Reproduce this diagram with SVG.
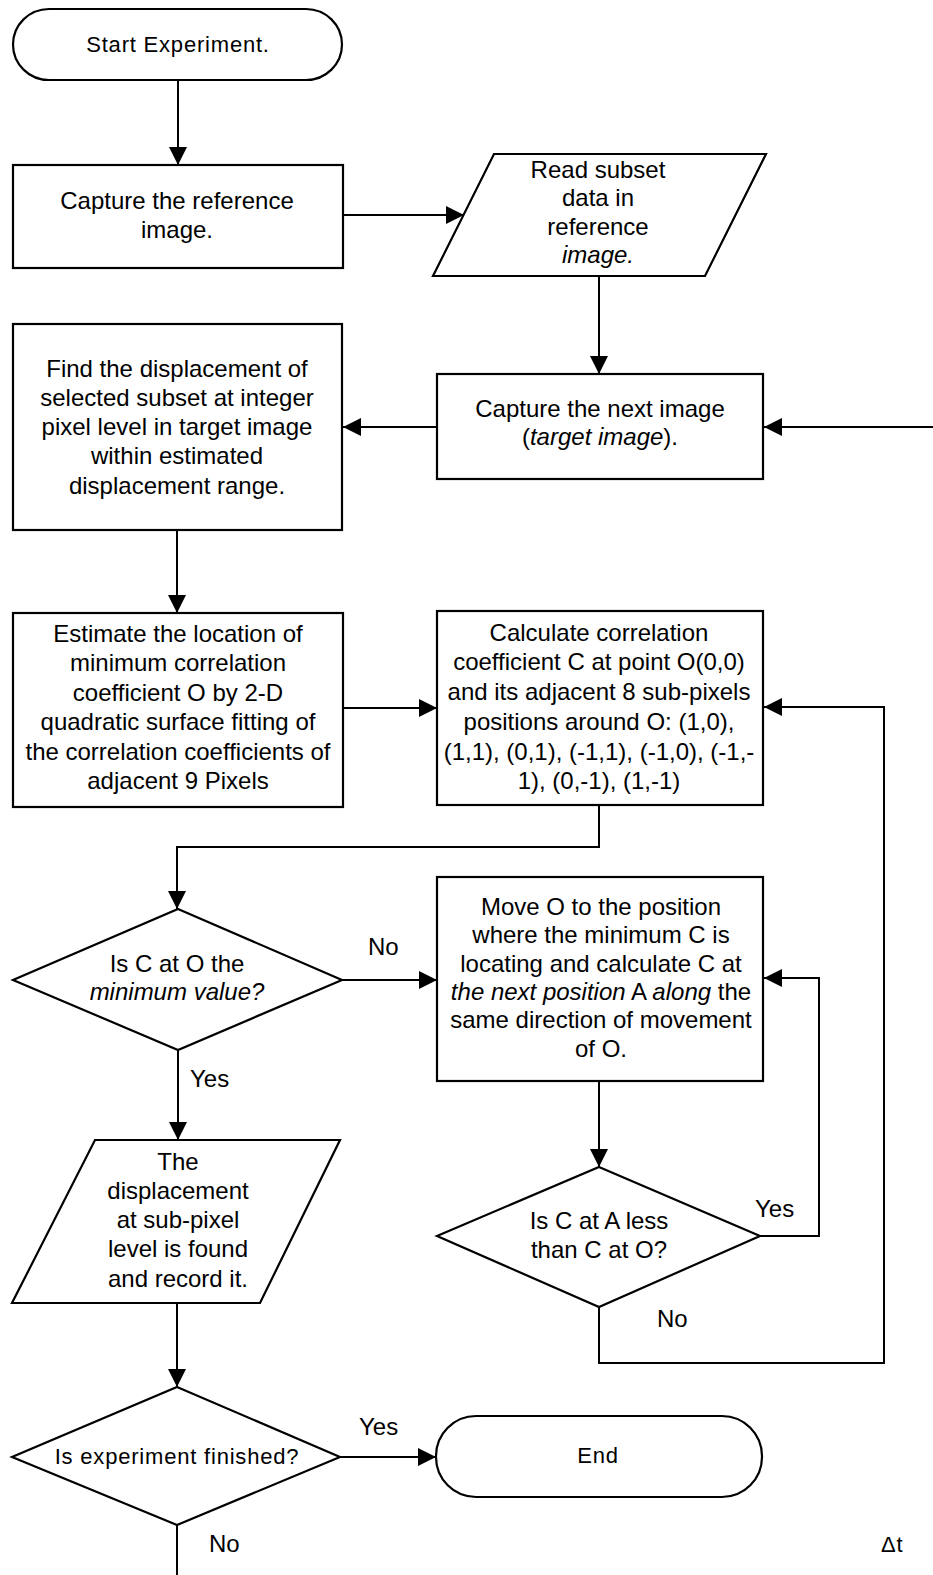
<svg xmlns="http://www.w3.org/2000/svg" width="933" height="1575" viewBox="0 0 933 1575">
<defs>
<style>
.shape{fill:#fff;stroke:#000;stroke-width:2.2}
.line{fill:none;stroke:#000;stroke-width:2}
text{font-family:"Liberation Sans",Arial,sans-serif;font-size:24px;fill:#000}
.c{text-anchor:middle}
.s{font-size:22px;letter-spacing:0.8px}
.i{font-style:italic}
</style>
<marker id="ah" markerUnits="userSpaceOnUse" markerWidth="18" markerHeight="18" refX="18" refY="9" orient="auto">
<path d="M0,0 L18,9 L0,18 Z" fill="#000"/>
</marker>
</defs>
<rect width="933" height="1575" fill="#fff"/>

<g id="connectors">
<path class="line" d="M178,80 V165" marker-end="url(#ah)"/>
<path class="line" d="M343,215 H464" marker-end="url(#ah)"/>
<path class="line" d="M599,276 V374" marker-end="url(#ah)"/>
<path class="line" d="M933,427 H764" marker-end="url(#ah)"/>
<path class="line" d="M437,427 H343" marker-end="url(#ah)"/>
<path class="line" d="M177,530 V613" marker-end="url(#ah)"/>
<path class="line" d="M343,708 H437" marker-end="url(#ah)"/>
<path class="line" d="M599,805 V847 H177 V909" marker-end="url(#ah)"/>
<path class="line" d="M342,980 H437" marker-end="url(#ah)"/>
<path class="line" d="M599,1081 V1167" marker-end="url(#ah)"/>
<path class="line" d="M760,1236 H819 V978 H764" marker-end="url(#ah)"/>
<path class="line" d="M599,1307 V1363 H884 V707 H764" marker-end="url(#ah)"/>
<path class="line" d="M178,1050 V1140" marker-end="url(#ah)"/>
<path class="line" d="M177,1303 V1387" marker-end="url(#ah)"/>
<path class="line" d="M340,1457 H436" marker-end="url(#ah)"/>
<path class="line" d="M177,1525 V1575"/>
<text x="368" y="955">No</text>
<text x="190" y="1087">Yes</text>
<text x="755" y="1217">Yes</text>
<text x="657" y="1327">No</text>
<text x="359" y="1435">Yes</text>
<text x="209" y="1552">No</text>
<text x="881" y="1552" class="s">Δt</text>
</g>

<g id="start">
<rect class="shape" x="13" y="9" width="329" height="71" rx="36" ry="36"/>
<text class="c s" x="178" y="52">Start Experiment.</text>
</g>

<g id="capture-ref">
<rect class="shape" x="13" y="165" width="330" height="103"/>
<text class="c" x="177" y="209">Capture the reference</text>
<text class="c" x="177" y="238">image.</text>
</g>

<g id="read-subset">
<polygon class="shape" points="494,154 766,154 705,276 433,276"/>
<text class="c" x="598" y="178">Read subset</text>
<text class="c" x="598" y="206">data in</text>
<text class="c" x="598" y="235">reference</text>
<text class="c i" x="598" y="263">image.</text>
</g>

<g id="capture-next">
<rect class="shape" x="437" y="374" width="326" height="105"/>
<text class="c" x="600" y="417">Capture the next image</text>
<text class="c" x="600" y="445">(<tspan class="i">target image</tspan>).</text>
</g>

<g id="find">
<rect class="shape" x="13" y="324" width="329" height="206"/>
<text class="c" x="177" y="377">Find the displacement of</text>
<text class="c" x="177" y="406">selected subset at integer</text>
<text class="c" x="177" y="435">pixel level in target image</text>
<text class="c" x="177" y="464">within estimated</text>
<text class="c" x="177" y="494">displacement range.</text>
</g>

<g id="estimate">
<rect class="shape" x="13" y="613" width="330" height="194"/>
<text class="c" x="178" y="642">Estimate the location of</text>
<text class="c" x="178" y="671">minimum correlation</text>
<text class="c" x="178" y="701">coefficient O by 2-D</text>
<text class="c" x="178" y="730">quadratic surface fitting of</text>
<text class="c" x="178" y="760">the correlation coefficients of</text>
<text class="c" x="178" y="789">adjacent 9 Pixels</text>
</g>

<g id="calculate">
<rect class="shape" x="437" y="611" width="326" height="194"/>
<text class="c" x="599" y="641">Calculate correlation</text>
<text class="c" x="599" y="670">coefficient C at point O(0,0)</text>
<text class="c" x="599" y="700">and its adjacent 8 sub-pixels</text>
<text class="c" x="599" y="730">positions around O: (1,0),</text>
<text class="c" x="599" y="760">(1,1), (0,1), (-1,1), (-1,0), (-1,-</text>
<text class="c" x="599" y="789">1), (0,-1), (1,-1)</text>
</g>

<g id="decision-min">
<polygon class="shape" points="178,909 342,980 178,1050 13,980"/>
<text class="c" x="177" y="972">Is C at O the</text>
<text class="c i" x="177" y="1000">minimum value?</text>
</g>

<g id="move">
<rect class="shape" x="437" y="877" width="326" height="204"/>
<text class="c" x="601" y="915">Move O to the position</text>
<text class="c" x="601" y="943">where the minimum C is</text>
<text class="c" x="601" y="972">locating and calculate C at</text>
<text class="c" x="601" y="1000"><tspan class="i">the next position</tspan> A <tspan class="i">along</tspan> the</text>
<text class="c" x="601" y="1028">same direction of movement</text>
<text class="c" x="601" y="1057">of O.</text>
</g>

<g id="decision-less">
<polygon class="shape" points="599,1167 760,1236 599,1307 437,1236"/>
<text class="c" x="599" y="1229">Is C at A less</text>
<text class="c" x="599" y="1258">than C at O?</text>
</g>

<g id="found">
<polygon class="shape" points="95,1140 340,1140 260,1303 12,1303"/>
<text class="c" x="178" y="1170">The</text>
<text class="c" x="178" y="1199">displacement</text>
<text class="c" x="178" y="1228">at sub-pixel</text>
<text class="c" x="178" y="1257">level is found</text>
<text class="c" x="178" y="1287">and record it.</text>
</g>

<g id="decision-finished">
<polygon class="shape" points="177,1387 340,1457 177,1525 12,1457"/>
<text class="c s" x="177" y="1464">Is experiment finished?</text>
</g>

<g id="end">
<rect class="shape" x="436" y="1416" width="326" height="81" rx="40" ry="40"/>
<text class="c s" x="598" y="1463">End</text>
</g>
</svg>
